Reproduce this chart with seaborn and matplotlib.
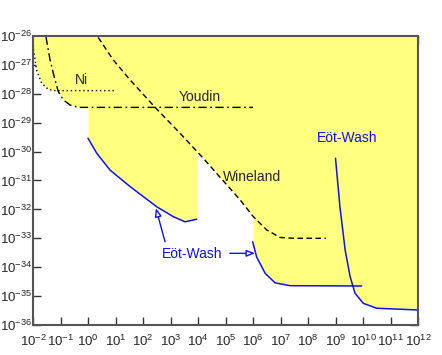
"""
Limits on spin-dependent couplings vs range - recreated with seaborn
"""
import numpy as np
import pandas as pd
import matplotlib
matplotlib.use("Agg")
import matplotlib.pyplot as plt
from matplotlib.ticker import LogLocator, LogFormatterSciNotation, NullLocator
import seaborn as sns

# log10 of x and y along each curve
ni_x = [-2.0, -1.98, -1.87, -1.68, -1.44, -1.2, 1.02]
ni_y = [-26.03, -26.48, -27.18, -27.64, -27.85, -27.89, -27.89]

youdin_x = [-1.53, -1.38, -1.2, -1.08, -0.90, -0.65, -0.35, 6.0]
youdin_y = [-26.02, -26.83, -27.52, -27.93, -28.21, -28.39, -28.47, -28.47]

wineland_x = [0.37, 0.92, 1.53, 2.44, 3.35, 4.19, 5.53, 6.01, 6.50, 6.98, 7.5, 8.65]
wineland_y = [-26.05, -26.83, -27.52, -28.47, -29.37, -30.23, -31.67, -32.25,
              -32.71, -32.97, -33.0, -33.0]

ew1_x = [0.0, 0.32, 0.8, 1.53, 2.5, 3.10, 3.53, 3.95]
ew1_y = [-29.54, -30.06, -30.64, -31.21, -31.91, -32.25, -32.43, -32.34]

ew2_x = [5.99, 6.13, 6.44, 6.8, 7.35, 9.95]
ew2_y = [-33.12, -33.64, -34.21, -34.54, -34.64, -34.65]

ew3_x = [9.0, 9.16, 9.35, 9.53, 9.71, 10.01, 10.5, 12.0]
ew3_y = [-30.23, -31.9, -33.4, -34.32, -34.9, -35.25, -35.42, -35.48]

# excluded-region fills: lower edge of each, filled up to the top
fill_edges = [
    (ni_x, ni_y),
    (youdin_x, youdin_y),
    (wineland_x, wineland_y),
    (ew1_x, ew1_y),
    (ew2_x, ew2_y),
    (ew3_x, ew3_y),
]

YELLOW = "#FFFF80"
BLUE = "#1010F0"


def curve_df(lx, ly):
    return pd.DataFrame({"x": 10.0 ** np.array(lx), "y": 10.0 ** np.array(ly)})


sns.set_style("ticks")
plt.rcParams["font.family"] = ["Liberation Sans", "DejaVu Sans"]
plt.rcParams["mathtext.fontset"] = "custom"
plt.rcParams["mathtext.rm"] = "Liberation Sans"
plt.rcParams["mathtext.it"] = "Liberation Sans:italic"
plt.rcParams["mathtext.bf"] = "Liberation Sans:bold"
plt.rcParams["axes.unicode_minus"] = False

fig = plt.figure(figsize=(4.42, 3.55), dpi=100)
ax = fig.add_axes([0.0747, 0.0845, 0.871, 0.8141])
ax.set_xscale("log")
ax.set_yscale("log")
ax.set_xlim(1e-2, 1e12)
ax.set_ylim(1e-36, 1e-26)

# yellow excluded regions
for lx, ly in fill_edges:
    d = curve_df(lx, ly)
    ax.fill_between(d["x"], d["y"], 1e-26, color=YELLOW, linewidth=0, zorder=1)

# constraint curves
sns.lineplot(data=curve_df(ni_x, ni_y), x="x", y="y", ax=ax, color="black",
             lw=1.0, linestyle=(0, (1, 2)), sort=False, estimator=None)
sns.lineplot(data=curve_df(youdin_x, youdin_y), x="x", y="y", ax=ax, color="black",
             lw=1.0, linestyle=(0, (6, 2.5, 1.2, 2.5)), sort=False, estimator=None)
sns.lineplot(data=curve_df(wineland_x, wineland_y), x="x", y="y", ax=ax, color="black",
             lw=1.0, linestyle=(0, (4, 2.5)), sort=False, estimator=None)
for lx, ly in [(ew1_x, ew1_y), (ew2_x, ew2_y), (ew3_x, ew3_y)]:
    sns.lineplot(data=curve_df(lx, ly), x="x", y="y", ax=ax, color=BLUE,
                 lw=1.1, sort=False, estimator=None)

# labels
ax.text(10 ** -0.23, 10 ** -27.52, "Ni", fontsize=10, ha="center", va="center")
ax.text(10 ** 4.07, 10 ** -28.10, "Youdin", fontsize=10, ha="center", va="center")
ax.text(10 ** 5.95, 10 ** -30.89, "Wineland", fontsize=10, ha="center", va="center")
ax.text(10 ** 9.41, 10 ** -29.54, "Eöt-Wash", fontsize=10, ha="center",
        va="center", color=BLUE)
ax.text(10 ** 3.77, 10 ** -33.54, "Eöt-Wash", fontsize=10, ha="center",
        va="center", color=BLUE)

arrow = dict(arrowstyle="-|>,head_length=0.5,head_width=0.2", fc="white",
             ec=BLUE, lw=1.0, shrinkA=0, shrinkB=0)
ax.annotate("", xy=(10 ** 2.47, 10 ** -31.96), xytext=(10 ** 2.80, 10 ** -33.12),
            arrowprops=arrow)
ax.annotate("", xy=(10 ** 6.07, 10 ** -33.52), xytext=(10 ** 5.16, 10 ** -33.52),
            arrowprops=arrow)

# axes styling
ax.xaxis.set_major_locator(LogLocator(base=10, numticks=30))
ax.yaxis.set_major_locator(LogLocator(base=10, numticks=30))
ax.xaxis.set_major_formatter(LogFormatterSciNotation())
ax.yaxis.set_major_formatter(LogFormatterSciNotation())
ax.xaxis.set_minor_locator(NullLocator())
ax.yaxis.set_minor_locator(NullLocator())
ax.tick_params(axis="both", which="major", direction="in", length=6, width=1,
               color="#333333", top=True, right=True, labelsize=9.5)
ax.tick_params(axis="x", pad=6)
ax.tick_params(axis="y", pad=0.5)
for sp in ax.spines.values():
    sp.set_color("#555555")
    sp.set_linewidth(1.5)
    sp.set_zorder(5)
ax.set_xlabel("")
ax.set_ylabel("")

fig.savefig("out.png", dpi=100)
